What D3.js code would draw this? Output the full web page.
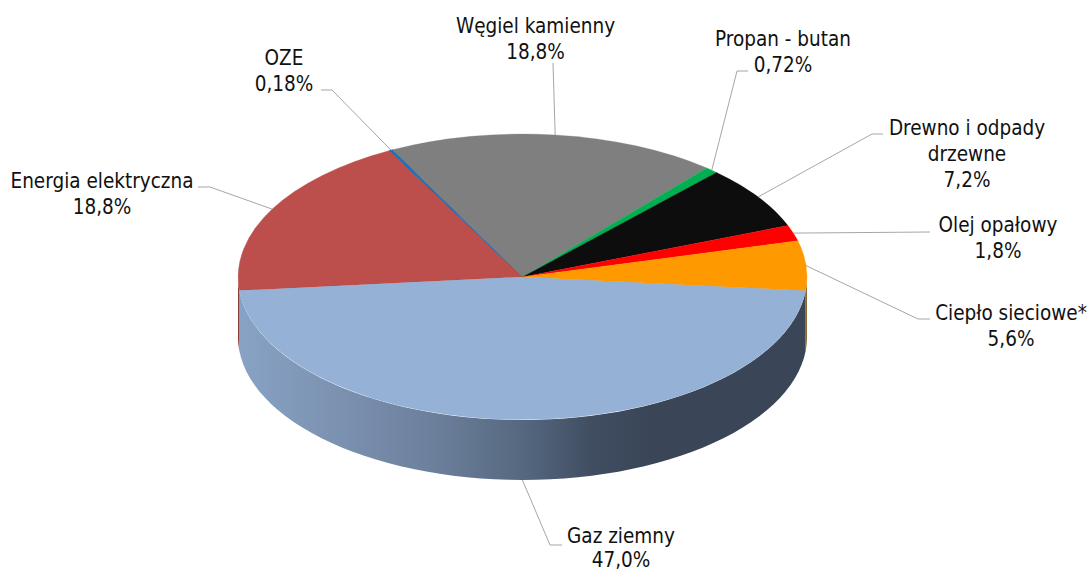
<!DOCTYPE html>
<html><head><meta charset="utf-8">
<script src="https://cdn.jsdelivr.net/npm/d3@7"></script>
<style>
html,body{margin:0;padding:0;background:#fff}
svg{display:block}
text{font-family:"DejaVu Sans Condensed","DejaVu Sans";font-stretch:condensed;font-size:20.5px;fill:#111;text-anchor:middle}
</style></head><body>
<svg id="c" width="1091" height="572"></svg>
<script>
const categories=["Gaz ziemny","Energia elektryczna","OZE","Węgiel kamienny","Propan - butan","Drewno i odpady drzewne","Olej opałowy","Ciepło sieciowe*"];
const values=[47.0,18.8,0.18,18.8,0.72,7.2,1.8,5.6];
const valueLabels=["47,0%","18,8%","0,18%","18,8%","0,72%","7,2%","1,8%","5,6%"];
const colors=["#95b1d6","#bc4f4c","#1f6fb5","#7f7f7f","#00af50","#0d0d0d","#ff0000","#ff9900"];
const wallColors=["url(#wall)","#8c3a38","#17538a","#5f5f5f","#00833c","#0a0a0a","#bf0000","#8a6a30"];
const categoryLines=[["Gaz ziemny"],["Energia elektryczna"],["OZE"],["Węgiel kamienny"],["Propan - butan"],["Drewno i odpady","drzewne"],["Olej opałowy"],["Ciepło sieciowe*"]];
const labelAnchors=[[621,543],[102,188],[284,65],[535.5,33],[783,46],[967,135],[998,232],[1011,320]];
const lineSteps=[24,26,26,26,26,26,26,26];
const elbows=[[[550,545],[562,545]],[[210,187],[198,187]],[[332,90],[321,90]],[[553,63]],[[737,71],[748,71]],[[872,134],[883,134]],[[930,232]],[[918,319],[930,319]]];

const cx=522.5,cy=277,rx=284.5,ry=143,depth=60;
const startDeg=95.5;
const svg=d3.select("#c");
const defs=svg.append("defs");
const grad=defs.append("linearGradient").attr("id","wall").attr("gradientUnits","userSpaceOnUse")
  .attr("x1",cx-rx).attr("x2",cx+rx).attr("y1",0).attr("y2",0);
[[0,"#88a3c5"],[0.2,"#7a8fae"],[0.35,"#6b7f9b"],[0.5,"#55687f"],[0.62,"#414e62"],[0.72,"#3a4658"],[1,"#3a4658"]]
 .forEach(([o,c])=>grad.append("stop").attr("offset",o).attr("stop-color",c));

const pie=d3.pie().sort(null).startAngle(startDeg*Math.PI/180).endAngle((startDeg+360)*Math.PI/180);
const arcs=pie(values);
const x=d3.scaleLinear().domain([-1,1]).range([cx-rx,cx+rx]);
const y=d3.scaleLinear().domain([-1,1]).range([cy-ry,cy+ry]);
const rim=(a,dz=0)=>[x(Math.sin(a)),y(-Math.cos(a))+dz];

const chart=svg.append("g");
arcs.forEach((d,i)=>{
  const spans=[[Math.PI/2,3*Math.PI/2],[Math.PI/2+2*Math.PI,3*Math.PI/2+2*Math.PI]];
  spans.forEach(([p,q])=>{
    const a0=Math.max(d.startAngle,p),a1=Math.min(d.endAngle,q);
    if(a1<=a0)return;
    const as=d3.range(0,61).map(k=>a0+(a1-a0)*k/60);
    const upper=as.map(a=>rim(a));
    const lower=as.map(a=>rim(a,depth)).reverse();
    chart.append("path").attr("d",d3.line()(upper.concat(lower))+"Z").attr("fill",wallColors[i]);
  });
});
const arc=d3.arc().innerRadius(0).outerRadius(1);
const face=chart.append("g").attr("transform",`translate(${cx},${cy}) scale(${rx},${ry})`);
face.selectAll("path").data(arcs).join("path")
  .attr("d",arc).attr("fill",(d,i)=>colors[i]).attr("stroke",(d,i)=>colors[i]).attr("stroke-width",(d,i)=>i===2?1:0.3).attr("vector-effect","non-scaling-stroke");
face.append("path").datum(arcs[0]).attr("d",arc).attr("fill",colors[0]);

const leaders=svg.append("g").attr("fill","none").attr("stroke","#a6a6a6").attr("stroke-width",1);
arcs.forEach((d,i)=>{
  const m=(d.startAngle+d.endAngle)/2;
  const p=rim(m,Math.cos(m)<-0.9?depth:0);
  leaders.append("path").attr("d",d3.line()([p,...elbows[i]]));
});
const labels=svg.append("g");
categoryLines.forEach((ls,i)=>{
  const te=labels.append("text");
  ls.concat([valueLabels[i]]).forEach((s,k)=>te.append("tspan").attr("x",labelAnchors[i][0]).attr("y",labelAnchors[i][1]+k*lineSteps[i]).text(s));
});
</script></body></html>
